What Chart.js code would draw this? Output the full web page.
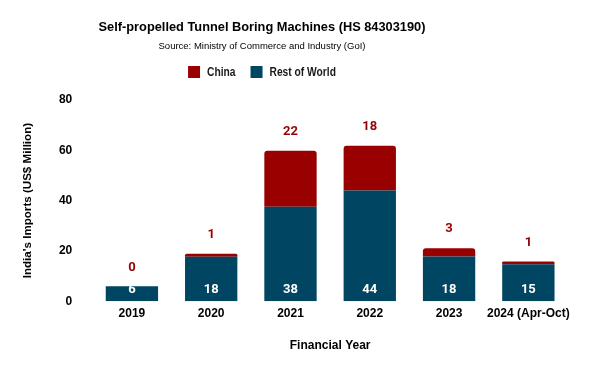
<!DOCTYPE html>
<html>
<head>
<meta charset="utf-8">
<script src="https://cdn.jsdelivr.net/npm/chart.js@4.4.1/dist/chart.umd.min.js"></script>
<style>
  html, body { margin: 0; padding: 0; background: #fff; }
  #wrap { width: 600px; height: 371px; }
</style>
</head>
<body>
<div id="wrap"><canvas id="chart"></canvas></div>
<script>
var years = ['2019', '2020', '2021', '2022', '2023', '2024 (Apr-Oct)'];
var restOfWorld = [5.9, 17.7, 37.6, 44.0, 17.8, 14.7];
var china = [0, 1.2, 22.2, 17.8, 3.3, 1.1];
var seriesNames = ['China', 'Rest of World'];

var chinaColor = '#990000';
var rowColor = '#004561';
var sans = 'Liberation Sans, Arial, sans-serif';
var axisFont = { family: sans, size: 12, weight: 'bold' };

// title, source line and legend are drawn by hand, centred left of the plot centre like the original
var header = {
    id: 'header',
    afterDraw: function (chart) {
        var ctx = chart.ctx;
        var cx = 262;
        ctx.save();
        ctx.textAlign = 'center';
        ctx.textBaseline = 'middle';
        ctx.fillStyle = '#000';
        ctx.font = 'bold 12.8px ' + sans;
        ctx.fillText('Self-propelled Tunnel Boring Machines (HS 84303190)', cx, 27);
        ctx.font = '9.5px ' + sans;
        ctx.fillText('Source: Ministry of Commerce and Industry (GoI)', cx, 46);

        // legend, narrow bold text
        var squeeze = 0.82;
        ctx.font = 'bold 12.5px ' + sans;
        ctx.textAlign = 'left';
        var colors = [chinaColor, rowColor];
        var box = 12, gap = 7, space = 15;
        var widths = seriesNames.map(function (n) { return box + gap + ctx.measureText(n).width * squeeze; });
        var total = widths[0] + space + widths[1];
        var x = cx - total / 2;
        seriesNames.forEach(function (n, i) {
            ctx.fillStyle = colors[i];
            ctx.fillRect(x, 66, box, box);
            ctx.save();
            ctx.translate(x + box + gap, 72.5);
            ctx.scale(squeeze, 1);
            ctx.fillStyle = '#1a1a1a';
            ctx.fillText(n, 0, 0);
            ctx.restore();
            x += widths[i] + space;
        });
        ctx.restore();
    }
};

// value labels: white inside the bottom of the blue bars, red above the stack
var valueLabels = {
    id: 'valueLabels',
    afterDatasetsDraw: function (chart) {
        var ctx = chart.ctx;
        ctx.save();
        ctx.font = 'bold 13px Roboto, sans-serif';
        ctx.textAlign = 'center';
        ctx.textBaseline = 'middle';
        chart.getDatasetMeta(0).data.forEach(function (bar, i) {
            ctx.fillStyle = '#ffffff';
            ctx.fillText(Math.round(restOfWorld[i]), bar.x, bar.base - 11);
        });
        chart.getDatasetMeta(1).data.forEach(function (bar, i) {
            ctx.fillStyle = chinaColor;
            ctx.fillText(Math.round(china[i]), bar.x, bar.y - 19);
        });
        ctx.restore();
    }
};

new Chart(document.getElementById('chart'), {
    type: 'bar',
    data: {
        labels: years,
        datasets: [
            {
                label: seriesNames[1],
                data: restOfWorld,
                backgroundColor: rowColor,
                stack: 's'
            },
            {
                label: seriesNames[0],
                data: china,
                backgroundColor: chinaColor,
                borderRadius: { topLeft: 3, topRight: 3, bottomLeft: 0, bottomRight: 0 },
                borderSkipped: false,
                stack: 's'
            }
        ]
    },
    options: {
        responsive: true,
        maintainAspectRatio: false,
        animation: false,
        layout: { padding: { left: 17, right: 32, top: 100, bottom: 14 } },
        datasets: { bar: { barPercentage: 0.66, categoryPercentage: 1 } },
        plugins: {
            legend: { display: false },
            tooltip: { enabled: false }
        },
        scales: {
            x: {
                stacked: true,
                grid: { display: false, drawTicks: false },
                border: { display: false },
                ticks: { color: '#000', font: axisFont, padding: 5, maxRotation: 0, autoSkip: false },
                title: {
                    display: true,
                    text: 'Financial Year',
                    color: '#000',
                    font: axisFont,
                    padding: { top: 13 }
                }
            },
            y: {
                stacked: true,
                min: 0,
                max: 80,
                grid: { display: false, drawTicks: false },
                border: { display: false },
                ticks: { stepSize: 20, color: '#000', font: axisFont, padding: 20 },
                title: {
                    display: true,
                    text: "India's Imports (US$ Million)",
                    color: '#000',
                    font: { family: sans, size: 11.6, weight: 'bold' },
                    padding: { bottom: 4 }
                }
            }
        }
    },
    plugins: [header, valueLabels]
});
</script>
</body>
</html>
